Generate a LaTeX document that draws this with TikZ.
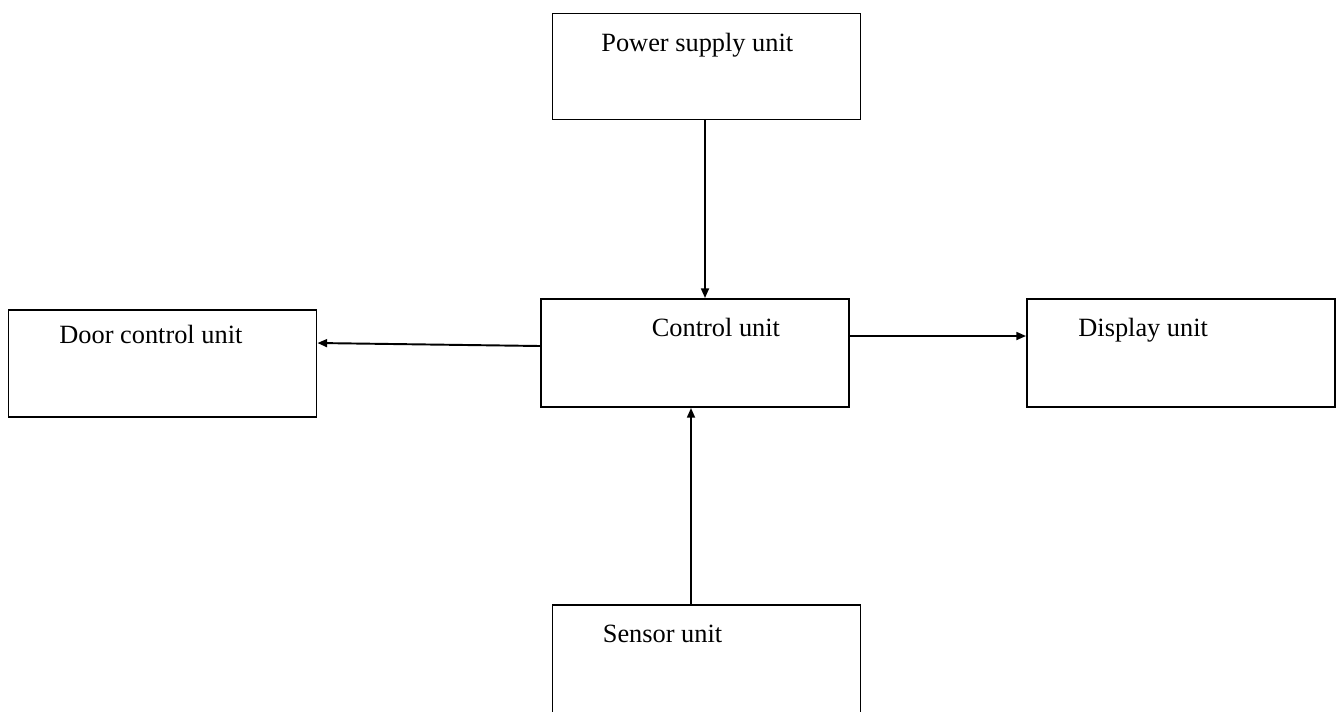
\documentclass[tikz,border=0pt]{standalone}
\usepackage{fontspec}
\setmainfont{Liberation Serif}
\usetikzlibrary{arrows.meta}
\tikzset{%
    unitbox/.style={draw, line width=1.1pt, inner sep=0pt,
        minimum width=6.16cm, minimum height=2.16cm},
    unitlabel/.style={anchor=base west, inner sep=0pt, font=\fontsize{15}{18}\selectfont},
    flow/.style={line width=1.1pt, -{Triangle[length=5.5pt,width=4.5pt]}}
}
\begin{document}
\begin{tikzpicture}
    \useasboundingbox (0,0) rectangle (26.72,-14.22);
    % blocks
    \node[unitbox, minimum height=2.12cm] (pw) at (14.13,-1.33) {};
    \node[unitbox] (ctl) at (13.90,-7.06) {};
    \node[unitbox, minimum height=2.14cm] (dcu) at (3.25,-7.27) {};
    \node[unitbox] (dsp) at (23.62,-7.06) {};
    \node[unitbox] (sen) at (14.13,-13.18) {};
    % labels
    \node[unitlabel] (pw-t) at ([xshift=0.99cm,yshift=-0.77cm]pw.north west) {Power supply unit};
    \node[unitlabel] (ctl-t) at ([xshift=2.23cm,yshift=-0.76cm]ctl.north west) {Control unit};
    \node[unitlabel] (dcu-t) at ([xshift=1.03cm,yshift=-0.68cm]dcu.north west) {Door control unit};
    \node[unitlabel] (dsp-t) at ([xshift=1.04cm,yshift=-0.76cm]dsp.north west) {Display unit};
    \node[unitlabel] (sen-t) at ([xshift=1.02cm,yshift=-0.76cm]sen.north west) {Sensor unit};
    % signal flow
    \draw[flow] ([xshift=-0.03cm]pw.south) -- ([xshift=-0.03cm]pw.south |- ctl.north);
    \draw[flow] ([yshift=0.14cm]ctl.west) -- ([yshift=0.41cm]dcu.east);
    \draw[flow] ([yshift=0.34cm]ctl.east) -- ([yshift=0.34cm]dsp.west);
    \draw[flow] ([xshift=-0.08cm]ctl.south |- sen.north) -- ([xshift=-0.08cm]ctl.south);
\end{tikzpicture}
\end{document}
